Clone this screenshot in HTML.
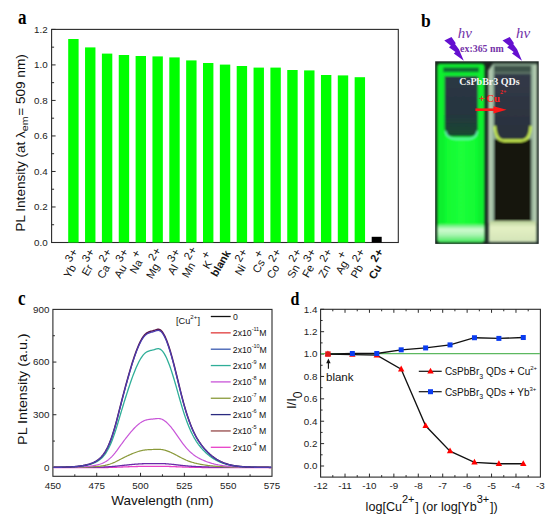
<!DOCTYPE html>
<html><head><meta charset="utf-8"><style>
html,body{margin:0;padding:0;background:#fff;}
body{width:550px;height:523px;overflow:hidden;font-family:"Liberation Sans",sans-serif;}
svg{display:block;}
</style></head><body>
<svg width="550" height="523" viewBox="0 0 550 523">
<rect width="550" height="523" fill="#fff"/>
<rect x="51.6" y="29.4" width="346.7" height="213.1" fill="none" stroke="#2a2a2a" stroke-width="1.1"/>
<line x1="51.6" y1="242.5" x2="55.6" y2="242.5" stroke="#2a2a2a" stroke-width="1"/>
<text x="47.6" y="245.8" font-family="Liberation Sans" font-size="9.8" font-weight="normal" text-anchor="end" fill="#222" >0.0</text>
<line x1="51.6" y1="224.74" x2="54.1" y2="224.74" stroke="#2a2a2a" stroke-width="1"/>
<line x1="51.6" y1="206.98" x2="55.6" y2="206.98" stroke="#2a2a2a" stroke-width="1"/>
<text x="47.6" y="210.28" font-family="Liberation Sans" font-size="9.8" font-weight="normal" text-anchor="end" fill="#222" >0.2</text>
<line x1="51.6" y1="189.22" x2="54.1" y2="189.22" stroke="#2a2a2a" stroke-width="1"/>
<line x1="51.6" y1="171.47" x2="55.6" y2="171.47" stroke="#2a2a2a" stroke-width="1"/>
<text x="47.6" y="174.77" font-family="Liberation Sans" font-size="9.8" font-weight="normal" text-anchor="end" fill="#222" >0.4</text>
<line x1="51.6" y1="153.71" x2="54.1" y2="153.71" stroke="#2a2a2a" stroke-width="1"/>
<line x1="51.6" y1="135.95" x2="55.6" y2="135.95" stroke="#2a2a2a" stroke-width="1"/>
<text x="47.6" y="139.25" font-family="Liberation Sans" font-size="9.8" font-weight="normal" text-anchor="end" fill="#222" >0.6</text>
<line x1="51.6" y1="118.19" x2="54.1" y2="118.19" stroke="#2a2a2a" stroke-width="1"/>
<line x1="51.6" y1="100.43" x2="55.6" y2="100.43" stroke="#2a2a2a" stroke-width="1"/>
<text x="47.6" y="103.73" font-family="Liberation Sans" font-size="9.8" font-weight="normal" text-anchor="end" fill="#222" >0.8</text>
<line x1="51.6" y1="82.67" x2="54.1" y2="82.67" stroke="#2a2a2a" stroke-width="1"/>
<line x1="51.6" y1="64.92" x2="55.6" y2="64.92" stroke="#2a2a2a" stroke-width="1"/>
<text x="47.6" y="68.22" font-family="Liberation Sans" font-size="9.8" font-weight="normal" text-anchor="end" fill="#222" >1.0</text>
<line x1="51.6" y1="47.16" x2="54.1" y2="47.16" stroke="#2a2a2a" stroke-width="1"/>
<line x1="51.6" y1="29.4" x2="55.6" y2="29.4" stroke="#2a2a2a" stroke-width="1"/>
<text x="47.6" y="32.7" font-family="Liberation Sans" font-size="9.8" font-weight="normal" text-anchor="end" fill="#222" >1.2</text>
<rect x="68.2" y="39" width="10.4" height="203.5" fill="#00ff00"/>
<rect x="85.05" y="47.4" width="10.4" height="195.1" fill="#00ff00"/>
<rect x="101.9" y="53.6" width="10.4" height="188.9" fill="#00ff00"/>
<rect x="118.75" y="55" width="10.4" height="187.5" fill="#00ff00"/>
<rect x="135.6" y="56" width="10.4" height="186.5" fill="#00ff00"/>
<rect x="152.45" y="56.4" width="10.4" height="186.1" fill="#00ff00"/>
<rect x="169.3" y="57.4" width="10.4" height="185.1" fill="#00ff00"/>
<rect x="186.15" y="60.4" width="10.4" height="182.1" fill="#00ff00"/>
<rect x="203" y="63" width="10.4" height="179.5" fill="#00ff00"/>
<rect x="219.85" y="64.6" width="10.4" height="177.9" fill="#00ff00"/>
<rect x="236.7" y="66" width="10.4" height="176.5" fill="#00ff00"/>
<rect x="253.55" y="67.6" width="10.4" height="174.9" fill="#00ff00"/>
<rect x="270.4" y="67.6" width="10.4" height="174.9" fill="#00ff00"/>
<rect x="287.25" y="70" width="10.4" height="172.5" fill="#00ff00"/>
<rect x="304.1" y="70.4" width="10.4" height="172.1" fill="#00ff00"/>
<rect x="320.95" y="75" width="10.4" height="167.5" fill="#00ff00"/>
<rect x="337.8" y="75.4" width="10.4" height="167.1" fill="#00ff00"/>
<rect x="354.65" y="77.2" width="10.4" height="165.3" fill="#00ff00"/>
<rect x="371.7" y="236.8" width="10" height="5.7" fill="#000"/>
<text transform="translate(69.78,279.01) rotate(-60)" font-family="Liberation Sans" font-size="11" font-weight="normal" fill="#111">Yb<tspan dx="1.2" dy="-7.3">3</tspan><tspan font-size="12.1" dx="0.3" dy="1.1">+</tspan></text>
<text transform="translate(87.87,276.87) rotate(-60)" font-family="Liberation Sans" font-size="11" font-weight="normal" fill="#111">Er<tspan dx="1.2" dy="-7.3">3</tspan><tspan font-size="12.1" dx="0.3" dy="1.1">+</tspan></text>
<text transform="translate(103.19,279.52) rotate(-60)" font-family="Liberation Sans" font-size="11" font-weight="normal" fill="#111">Ca<tspan dx="1.2" dy="-7.3">2</tspan><tspan font-size="12.1" dx="0.3" dy="1.1">+</tspan></text>
<text transform="translate(120.33,279.01) rotate(-60)" font-family="Liberation Sans" font-size="11" font-weight="normal" fill="#111">Au<tspan dx="1.2" dy="-7.3">3</tspan><tspan font-size="12.1" dx="0.3" dy="1.1">+</tspan></text>
<text transform="translate(135.86,274.49) rotate(-60)" font-family="Liberation Sans" font-size="11" font-weight="normal" fill="#111">Na<tspan font-size="12.1" dx="0.6" dy="-6.2">+</tspan></text>
<text transform="translate(152.13,279.48) rotate(-60)" font-family="Liberation Sans" font-size="11" font-weight="normal" fill="#111">Mg<tspan dx="1.2" dy="-7.3">2</tspan><tspan font-size="12.1" dx="0.3" dy="1.1">+</tspan></text>
<text transform="translate(173.83,275.82) rotate(-60)" font-family="Liberation Sans" font-size="11" font-weight="normal" fill="#111">Al<tspan dx="1.2" dy="-7.3">3</tspan><tspan font-size="12.1" dx="0.3" dy="1.1">+</tspan></text>
<text transform="translate(187.93,278.38) rotate(-60)" font-family="Liberation Sans" font-size="11" font-weight="normal" fill="#111">Mn<tspan dx="1.2" dy="-7.3">2</tspan><tspan font-size="12.1" dx="0.3" dy="1.1">+</tspan></text>
<text transform="translate(208.82,269.77) rotate(-60)" font-family="Liberation Sans" font-size="11" font-weight="normal" fill="#111">K<tspan font-size="12.1" dx="0.6" dy="-6.2">+</tspan></text>
<text transform="translate(216.8,277.4) rotate(-60)" font-family="Liberation Sans" font-size="10.8" font-weight="bold" fill="#111">blank</text>
<text transform="translate(240.92,276.34) rotate(-60)" font-family="Liberation Sans" font-size="11" font-weight="normal" fill="#111">Ni<tspan dx="1.2" dy="-7.3">2</tspan><tspan font-size="12.1" dx="0.3" dy="1.1">+</tspan></text>
<text transform="translate(258.52,273.96) rotate(-60)" font-family="Liberation Sans" font-size="11" font-weight="normal" fill="#111">Cs<tspan font-size="12.1" dx="0.6" dy="-6.2">+</tspan></text>
<text transform="translate(272.79,279.52) rotate(-60)" font-family="Liberation Sans" font-size="11" font-weight="normal" fill="#111">Co<tspan dx="1.2" dy="-7.3">2</tspan><tspan font-size="12.1" dx="0.3" dy="1.1">+</tspan></text>
<text transform="translate(293.23,279.01) rotate(-60)" font-family="Liberation Sans" font-size="11" font-weight="normal" fill="#111">Sn<tspan dx="1.2" dy="-7.3">2</tspan><tspan font-size="12.1" dx="0.3" dy="1.1">+</tspan></text>
<text transform="translate(308.2,278.47) rotate(-60)" font-family="Liberation Sans" font-size="11" font-weight="normal" fill="#111">Fe<tspan dx="1.2" dy="-7.3">3</tspan><tspan font-size="12.1" dx="0.3" dy="1.1">+</tspan></text>
<text transform="translate(324.45,278.47) rotate(-60)" font-family="Liberation Sans" font-size="11" font-weight="normal" fill="#111">Zn<tspan dx="1.2" dy="-7.3">2</tspan><tspan font-size="12.1" dx="0.3" dy="1.1">+</tspan></text>
<text transform="translate(341.66,275.07) rotate(-60)" font-family="Liberation Sans" font-size="11" font-weight="normal" fill="#111">Ag<tspan font-size="12.1" dx="0.6" dy="-6.2">+</tspan></text>
<text transform="translate(356.73,279.01) rotate(-60)" font-family="Liberation Sans" font-size="11" font-weight="normal" fill="#111">Pb<tspan dx="1.2" dy="-7.3">2</tspan><tspan font-size="12.1" dx="0.3" dy="1.1">+</tspan></text>
<text transform="translate(374.68,280.05) rotate(-60)" font-family="Liberation Sans" font-size="11" font-weight="bold" fill="#111">Cu<tspan dx="1.2" dy="-7.3">2</tspan><tspan font-size="12.1" dx="0.3" dy="1.1">+</tspan></text>
<text transform="translate(25.2,231.5) rotate(-90) scale(1.075,1)" font-family="Liberation Sans" font-size="12.6" fill="#111">PL Intensity (at λ<tspan font-size="9.8" dy="2.8">em</tspan><tspan dy="-2.8" dx="0.8">= 509 nm)</tspan></text>
<text transform="translate(18,23.6) scale(1,1.2)" font-family="Liberation Serif" font-size="17" font-weight="bold" fill="#000">a</text>
<rect x="52.9" y="309.4" width="219.1" height="166.9" fill="none" stroke="#2a2a2a" stroke-width="1.1"/>
<line x1="52.9" y1="467.4" x2="56.4" y2="467.4" stroke="#2a2a2a" stroke-width="1"/>
<line x1="52.9" y1="441.07" x2="54.9" y2="441.07" stroke="#2a2a2a" stroke-width="1"/>
<line x1="52.9" y1="414.73" x2="56.4" y2="414.73" stroke="#2a2a2a" stroke-width="1"/>
<line x1="52.9" y1="388.4" x2="54.9" y2="388.4" stroke="#2a2a2a" stroke-width="1"/>
<line x1="52.9" y1="362.07" x2="56.4" y2="362.07" stroke="#2a2a2a" stroke-width="1"/>
<line x1="52.9" y1="335.73" x2="54.9" y2="335.73" stroke="#2a2a2a" stroke-width="1"/>
<text x="49.4" y="470.7" font-family="Liberation Sans" font-size="9.8" font-weight="normal" text-anchor="end" fill="#222" >0</text>
<text x="49.4" y="418.03" font-family="Liberation Sans" font-size="9.8" font-weight="normal" text-anchor="end" fill="#222" >300</text>
<text x="49.4" y="365.37" font-family="Liberation Sans" font-size="9.8" font-weight="normal" text-anchor="end" fill="#222" >600</text>
<text x="49.4" y="312.7" font-family="Liberation Sans" font-size="9.8" font-weight="normal" text-anchor="end" fill="#222" >900</text>
<text x="52.9" y="489.2" font-family="Liberation Sans" font-size="9.8" font-weight="normal" text-anchor="middle" fill="#222" >450</text>
<line x1="74.81" y1="476.3" x2="74.81" y2="474.3" stroke="#2a2a2a" stroke-width="1"/>
<line x1="96.72" y1="476.3" x2="96.72" y2="472.8" stroke="#2a2a2a" stroke-width="1"/>
<text x="96.72" y="489.2" font-family="Liberation Sans" font-size="9.8" font-weight="normal" text-anchor="middle" fill="#222" >475</text>
<line x1="118.63" y1="476.3" x2="118.63" y2="474.3" stroke="#2a2a2a" stroke-width="1"/>
<line x1="140.54" y1="476.3" x2="140.54" y2="472.8" stroke="#2a2a2a" stroke-width="1"/>
<text x="140.54" y="489.2" font-family="Liberation Sans" font-size="9.8" font-weight="normal" text-anchor="middle" fill="#222" >500</text>
<line x1="162.45" y1="476.3" x2="162.45" y2="474.3" stroke="#2a2a2a" stroke-width="1"/>
<line x1="184.36" y1="476.3" x2="184.36" y2="472.8" stroke="#2a2a2a" stroke-width="1"/>
<text x="184.36" y="489.2" font-family="Liberation Sans" font-size="9.8" font-weight="normal" text-anchor="middle" fill="#222" >525</text>
<line x1="206.27" y1="476.3" x2="206.27" y2="474.3" stroke="#2a2a2a" stroke-width="1"/>
<line x1="228.18" y1="476.3" x2="228.18" y2="472.8" stroke="#2a2a2a" stroke-width="1"/>
<text x="228.18" y="489.2" font-family="Liberation Sans" font-size="9.8" font-weight="normal" text-anchor="middle" fill="#222" >550</text>
<line x1="250.09" y1="476.3" x2="250.09" y2="474.3" stroke="#2a2a2a" stroke-width="1"/>
<text x="272" y="489.2" font-family="Liberation Sans" font-size="9.8" font-weight="normal" text-anchor="middle" fill="#222" >575</text>
<text x="162.4" y="505" font-family="Liberation Sans" font-size="13.5" font-weight="normal" text-anchor="middle" fill="#111" >Wavelength (nm)</text>
<text transform="translate(27.2,444.9) rotate(-90) scale(1.144,1)" font-family="Liberation Sans" font-size="12.5" fill="#111">PL Intensity (a.u.)</text>
<text transform="translate(18,304.6) scale(1,1.2)" font-family="Liberation Serif" font-size="17" font-weight="bold" fill="#000">c</text>
<polyline points="53.5,467.7 54.2,467.7 54.9,467.7 55.6,467.7 56.3,467.7 57,467.7 57.7,467.7 58.4,467.7 59.1,467.7 59.8,467.7 60.5,467.7 61.2,467.7 61.9,467.7 62.6,467.7 63.3,467.7 64,467.7 64.7,467.7 65.4,467.7 66.1,467.7 66.8,467.7 67.5,467.7 68.2,467.7 68.9,467.7 69.6,467.7 70.3,467.7 71,467.69 71.7,467.69 72.4,467.69 73.1,467.69 73.8,467.69 74.5,467.69 75.2,467.69 75.9,467.69 76.6,467.69 77.3,467.69 78,467.69 78.7,467.69 79.4,467.69 80.1,467.69 80.8,467.69 81.5,467.68 82.2,467.68 82.9,467.68 83.6,467.68 84.3,467.68 85,467.68 85.7,467.68 86.4,467.67 87.1,467.67 87.8,467.67 88.5,467.67 89.2,467.67 89.9,467.66 90.6,467.66 91.3,467.66 92,467.66 92.7,467.65 93.4,467.65 94.1,467.65 94.8,467.64 95.5,467.64 96.2,467.64 96.9,467.63 97.6,467.63 98.3,467.62 99,467.62 99.7,467.61 100.4,467.6 101.1,467.6 101.8,467.59 102.5,467.58 103.2,467.57 103.9,467.56 104.6,467.55 105.3,467.54 106,467.53 106.7,467.51 107.4,467.5 108.1,467.48 108.8,467.47 109.5,467.45 110.2,467.43 110.9,467.42 111.6,467.4 112.3,467.37 113,467.35 113.7,467.33 114.4,467.31 115.1,467.28 115.8,467.26 116.5,467.23 117.2,467.2 117.9,467.17 118.6,467.15 119.3,467.12 120,467.09 120.7,467.06 121.4,467.03 122.1,467.01 122.8,466.98 123.5,466.95 124.2,466.92 124.9,466.9 125.6,466.87 126.3,466.85 127,466.82 127.7,466.79 128.4,466.77 129.1,466.74 129.8,466.72 130.5,466.69 131.2,466.67 131.9,466.65 132.6,466.62 133.3,466.6 134,466.58 134.7,466.56 135.4,466.54 136.1,466.52 136.8,466.5 137.5,466.48 138.2,466.47 138.9,466.45 139.6,466.43 140.3,466.42 141,466.4 141.7,466.39 142.4,466.38 143.1,466.37 143.8,466.36 144.5,466.35 145.2,466.34 145.9,466.34 146.6,466.33 147.3,466.33 148,466.32 148.7,466.32 149.4,466.32 150.1,466.32 150.8,466.31 151.5,466.31 152.2,466.31 152.9,466.31 153.6,466.31 154.3,466.3 155,466.3 155.7,466.3 156.4,466.3 157.1,466.29 157.8,466.29 158.5,466.29 159.2,466.29 159.9,466.3 160.6,466.3 161.3,466.31 162,466.32 162.7,466.33 163.4,466.34 164.1,466.35 164.8,466.36 165.5,466.38 166.2,466.4 166.9,466.41 167.6,466.43 168.3,466.45 169,466.47 169.7,466.5 170.4,466.52 171.1,466.54 171.8,466.57 172.5,466.6 173.2,466.62 173.9,466.65 174.6,466.68 175.3,466.71 176,466.73 176.7,466.76 177.4,466.79 178.1,466.82 178.8,466.85 179.5,466.88 180.2,466.91 180.9,466.94 181.6,466.97 182.3,466.99 183,467.02 183.7,467.05 184.4,467.07 185.1,467.1 185.8,467.12 186.5,467.14 187.2,467.17 187.9,467.19 188.6,467.21 189.3,467.23 190,467.25 190.7,467.27 191.4,467.29 192.1,467.3 192.8,467.32 193.5,467.33 194.2,467.35 194.9,467.36 195.6,467.38 196.3,467.39 197,467.4 197.7,467.42 198.4,467.43 199.1,467.44 199.8,467.45 200.5,467.46 201.2,467.47 201.9,467.48 202.6,467.49 203.3,467.5 204,467.5 204.7,467.51 205.4,467.52 206.1,467.53 206.8,467.54 207.5,467.54 208.2,467.55 208.9,467.56 209.6,467.56 210.3,467.57 211,467.58 211.7,467.58 212.4,467.59 213.1,467.59 213.8,467.6 214.5,467.6 215.2,467.61 215.9,467.61 216.6,467.62 217.3,467.62 218,467.63 218.7,467.63 219.4,467.63 220.1,467.64 220.8,467.64 221.5,467.64 222.2,467.65 222.9,467.65 223.6,467.65 224.3,467.66 225,467.66 225.7,467.66 226.4,467.66 227.1,467.67 227.8,467.67 228.5,467.67 229.2,467.67 229.9,467.67 230.6,467.68 231.3,467.68 232,467.68 232.7,467.68 233.4,467.68 234.1,467.68 234.8,467.68 235.5,467.68 236.2,467.69 236.9,467.69 237.6,467.69 238.3,467.69 239,467.69 239.7,467.69 240.4,467.69 241.1,467.69 241.8,467.69 242.5,467.69 243.2,467.69 243.9,467.69 244.6,467.69 245.3,467.69 246,467.7 246.7,467.7 247.4,467.7 248.1,467.7 248.8,467.7 249.5,467.7 250.2,467.7 250.9,467.7 251.6,467.7 252.3,467.7 253,467.7 253.7,467.7 254.4,467.7 255.1,467.7 255.8,467.7 256.5,467.7 257.2,467.7 257.9,467.7 258.6,467.7 259.3,467.7 260,467.7 260.7,467.7 261.4,467.7 262.1,467.7 262.8,467.7 263.5,467.7 264.2,467.7 264.9,467.7 265.6,467.7 266.3,467.7 267,467.7 267.7,467.7 268.4,467.7 269.1,467.7 269.8,467.7 270.5,467.7 271.2,467.7" fill="none" stroke="#e840c8" stroke-width="1.3" stroke-linejoin="round"/>
<polyline points="53.5,467.4 54.2,467.4 54.9,467.4 55.6,467.4 56.3,467.4 57,467.4 57.7,467.4 58.4,467.4 59.1,467.4 59.8,467.4 60.5,467.4 61.2,467.4 61.9,467.4 62.6,467.39 63.3,467.39 64,467.39 64.7,467.39 65.4,467.39 66.1,467.39 66.8,467.39 67.5,467.39 68.2,467.39 68.9,467.39 69.6,467.39 70.3,467.39 71,467.39 71.7,467.38 72.4,467.38 73.1,467.38 73.8,467.38 74.5,467.38 75.2,467.38 75.9,467.38 76.6,467.37 77.3,467.37 78,467.37 78.7,467.37 79.4,467.37 80.1,467.36 80.8,467.36 81.5,467.36 82.2,467.35 82.9,467.35 83.6,467.35 84.3,467.34 85,467.34 85.7,467.33 86.4,467.33 87.1,467.33 87.8,467.32 88.5,467.31 89.2,467.31 89.9,467.3 90.6,467.3 91.3,467.29 92,467.28 92.7,467.27 93.4,467.26 94.1,467.26 94.8,467.25 95.5,467.24 96.2,467.22 96.9,467.21 97.6,467.2 98.3,467.18 99,467.17 99.7,467.15 100.4,467.13 101.1,467.11 101.8,467.09 102.5,467.07 103.2,467.04 103.9,467.02 104.6,466.99 105.3,466.96 106,466.92 106.7,466.89 107.4,466.85 108.1,466.81 108.8,466.76 109.5,466.72 110.2,466.67 110.9,466.62 111.6,466.56 112.3,466.5 113,466.44 113.7,466.38 114.4,466.32 115.1,466.25 115.8,466.18 116.5,466.1 117.2,466.03 117.9,465.95 118.6,465.88 119.3,465.8 120,465.72 120.7,465.64 121.4,465.57 122.1,465.49 122.8,465.42 123.5,465.34 124.2,465.27 124.9,465.19 125.6,465.12 126.3,465.05 127,464.98 127.7,464.91 128.4,464.84 129.1,464.77 129.8,464.7 130.5,464.63 131.2,464.57 131.9,464.51 132.6,464.44 133.3,464.38 134,464.32 134.7,464.26 135.4,464.21 136.1,464.15 136.8,464.1 137.5,464.05 138.2,464 138.9,463.96 139.6,463.92 140.3,463.88 141,463.84 141.7,463.8 142.4,463.77 143.1,463.74 143.8,463.72 144.5,463.69 145.2,463.67 145.9,463.65 146.6,463.64 147.3,463.63 148,463.62 148.7,463.61 149.4,463.6 150.1,463.59 150.8,463.59 151.5,463.58 152.2,463.58 152.9,463.57 153.6,463.57 154.3,463.56 155,463.55 155.7,463.55 156.4,463.54 157.1,463.53 157.8,463.53 158.5,463.53 159.2,463.53 159.9,463.54 160.6,463.55 161.3,463.57 162,463.59 162.7,463.62 163.4,463.65 164.1,463.68 164.8,463.72 165.5,463.77 166.2,463.81 166.9,463.86 167.6,463.91 168.3,463.97 169,464.03 169.7,464.09 170.4,464.15 171.1,464.22 171.8,464.29 172.5,464.36 173.2,464.44 173.9,464.51 174.6,464.59 175.3,464.67 176,464.75 176.7,464.83 177.4,464.91 178.1,464.99 178.8,465.07 179.5,465.15 180.2,465.23 180.9,465.31 181.6,465.38 182.3,465.46 183,465.53 183.7,465.61 184.4,465.68 185.1,465.74 185.8,465.81 186.5,465.87 187.2,465.93 187.9,465.99 188.6,466.05 189.3,466.11 190,466.16 190.7,466.21 191.4,466.26 192.1,466.31 192.8,466.35 193.5,466.39 194.2,466.44 194.9,466.48 195.6,466.51 196.3,466.55 197,466.58 197.7,466.62 198.4,466.65 199.1,466.68 199.8,466.71 200.5,466.74 201.2,466.76 201.9,466.79 202.6,466.81 203.3,466.84 204,466.86 204.7,466.89 205.4,466.91 206.1,466.93 206.8,466.95 207.5,466.97 208.2,466.99 208.9,467.01 209.6,467.03 210.3,467.04 211,467.06 211.7,467.08 212.4,467.09 213.1,467.11 213.8,467.12 214.5,467.14 215.2,467.15 215.9,467.16 216.6,467.17 217.3,467.19 218,467.2 218.7,467.21 219.4,467.22 220.1,467.23 220.8,467.24 221.5,467.25 222.2,467.26 222.9,467.26 223.6,467.27 224.3,467.28 225,467.29 225.7,467.29 226.4,467.3 227.1,467.31 227.8,467.31 228.5,467.32 229.2,467.32 229.9,467.33 230.6,467.33 231.3,467.34 232,467.34 232.7,467.34 233.4,467.35 234.1,467.35 234.8,467.35 235.5,467.36 236.2,467.36 236.9,467.36 237.6,467.37 238.3,467.37 239,467.37 239.7,467.37 240.4,467.37 241.1,467.38 241.8,467.38 242.5,467.38 243.2,467.38 243.9,467.38 244.6,467.38 245.3,467.39 246,467.39 246.7,467.39 247.4,467.39 248.1,467.39 248.8,467.39 249.5,467.39 250.2,467.39 250.9,467.39 251.6,467.39 252.3,467.39 253,467.39 253.7,467.39 254.4,467.4 255.1,467.4 255.8,467.4 256.5,467.4 257.2,467.4 257.9,467.4 258.6,467.4 259.3,467.4 260,467.4 260.7,467.4 261.4,467.4 262.1,467.4 262.8,467.4 263.5,467.4 264.2,467.4 264.9,467.4 265.6,467.4 266.3,467.4 267,467.4 267.7,467.4 268.4,467.4 269.1,467.4 269.8,467.4 270.5,467.4 271.2,467.4" fill="none" stroke="#6a2aa8" stroke-width="1.3" stroke-linejoin="round"/>
<polyline points="53.5,467.39 54.2,467.39 54.9,467.39 55.6,467.39 56.3,467.39 57,467.39 57.7,467.39 58.4,467.39 59.1,467.38 59.8,467.38 60.5,467.38 61.2,467.38 61.9,467.38 62.6,467.38 63.3,467.37 64,467.37 64.7,467.37 65.4,467.37 66.1,467.36 66.8,467.36 67.5,467.36 68.2,467.35 68.9,467.35 69.6,467.34 70.3,467.34 71,467.33 71.7,467.33 72.4,467.32 73.1,467.32 73.8,467.31 74.5,467.3 75.2,467.3 75.9,467.29 76.6,467.28 77.3,467.27 78,467.26 78.7,467.25 79.4,467.24 80.1,467.22 80.8,467.21 81.5,467.2 82.2,467.18 82.9,467.17 83.6,467.15 84.3,467.13 85,467.11 85.7,467.09 86.4,467.07 87.1,467.05 87.8,467.03 88.5,467 89.2,466.97 89.9,466.94 90.6,466.91 91.3,466.88 92,466.84 92.7,466.81 93.4,466.77 94.1,466.72 94.8,466.68 95.5,466.63 96.2,466.58 96.9,466.52 97.6,466.46 98.3,466.39 99,466.32 99.7,466.24 100.4,466.15 101.1,466.06 101.8,465.96 102.5,465.85 103.2,465.74 103.9,465.61 104.6,465.48 105.3,465.33 106,465.17 106.7,465 107.4,464.82 108.1,464.63 108.8,464.43 109.5,464.21 110.2,463.98 110.9,463.73 111.6,463.48 112.3,463.21 113,462.93 113.7,462.63 114.4,462.33 115.1,462.01 115.8,461.67 116.5,461.33 117.2,460.98 117.9,460.62 118.6,460.27 119.3,459.9 120,459.54 120.7,459.18 121.4,458.82 122.1,458.46 122.8,458.11 123.5,457.76 124.2,457.41 124.9,457.07 125.6,456.73 126.3,456.4 127,456.07 127.7,455.74 128.4,455.41 129.1,455.09 129.8,454.77 130.5,454.45 131.2,454.15 131.9,453.85 132.6,453.55 133.3,453.27 134,452.99 134.7,452.72 135.4,452.45 136.1,452.2 136.8,451.96 137.5,451.72 138.2,451.5 138.9,451.29 139.6,451.09 140.3,450.9 141,450.72 141.7,450.56 142.4,450.41 143.1,450.27 143.8,450.15 144.5,450.04 145.2,449.94 145.9,449.86 146.6,449.79 147.3,449.74 148,449.69 148.7,449.64 149.4,449.61 150.1,449.58 150.8,449.55 151.5,449.53 152.2,449.5 152.9,449.48 153.6,449.45 154.3,449.42 155,449.39 155.7,449.36 156.4,449.33 157.1,449.3 157.8,449.29 158.5,449.29 159.2,449.3 159.9,449.34 160.6,449.4 161.3,449.48 162,449.58 162.7,449.7 163.4,449.85 164.1,450.01 164.8,450.19 165.5,450.38 166.2,450.6 166.9,450.83 167.6,451.08 168.3,451.34 169,451.61 169.7,451.9 170.4,452.2 171.1,452.52 171.8,452.84 172.5,453.18 173.2,453.52 173.9,453.87 174.6,454.23 175.3,454.6 176,454.97 176.7,455.34 177.4,455.72 178.1,456.1 178.8,456.48 179.5,456.85 180.2,457.22 180.9,457.59 181.6,457.96 182.3,458.31 183,458.66 183.7,459 184.4,459.33 185.1,459.65 185.8,459.96 186.5,460.25 187.2,460.54 187.9,460.82 188.6,461.08 189.3,461.34 190,461.59 190.7,461.83 191.4,462.06 192.1,462.28 192.8,462.49 193.5,462.69 194.2,462.89 194.9,463.07 195.6,463.25 196.3,463.42 197,463.58 197.7,463.73 198.4,463.88 199.1,464.02 199.8,464.16 200.5,464.29 201.2,464.42 201.9,464.54 202.6,464.66 203.3,464.77 204,464.88 204.7,464.99 205.4,465.09 206.1,465.19 206.8,465.29 207.5,465.39 208.2,465.48 208.9,465.56 209.6,465.65 210.3,465.73 211,465.81 211.7,465.88 212.4,465.96 213.1,466.03 213.8,466.09 214.5,466.16 215.2,466.22 215.9,466.28 216.6,466.34 217.3,466.4 218,466.45 218.7,466.5 219.4,466.55 220.1,466.6 220.8,466.64 221.5,466.68 222.2,466.72 222.9,466.76 223.6,466.8 224.3,466.83 225,466.87 225.7,466.9 226.4,466.93 227.1,466.96 227.8,466.99 228.5,467.01 229.2,467.04 229.9,467.06 230.6,467.08 231.3,467.1 232,467.12 232.7,467.14 233.4,467.16 234.1,467.17 234.8,467.19 235.5,467.2 236.2,467.22 236.9,467.23 237.6,467.24 238.3,467.25 239,467.26 239.7,467.27 240.4,467.28 241.1,467.29 241.8,467.3 242.5,467.31 243.2,467.31 243.9,467.32 244.6,467.33 245.3,467.33 246,467.34 246.7,467.34 247.4,467.35 248.1,467.35 248.8,467.35 249.5,467.36 250.2,467.36 250.9,467.36 251.6,467.37 252.3,467.37 253,467.37 253.7,467.37 254.4,467.38 255.1,467.38 255.8,467.38 256.5,467.38 257.2,467.38 257.9,467.39 258.6,467.39 259.3,467.39 260,467.39 260.7,467.39 261.4,467.39 262.1,467.39 262.8,467.39 263.5,467.39 264.2,467.39 264.9,467.39 265.6,467.39 266.3,467.4 267,467.4 267.7,467.4 268.4,467.4 269.1,467.4 269.8,467.4 270.5,467.4 271.2,467.4" fill="none" stroke="#8a9a3a" stroke-width="1.2" stroke-linejoin="round"/>
<polyline points="53.5,467.38 54.2,467.38 54.9,467.38 55.6,467.37 56.3,467.37 57,467.37 57.7,467.37 58.4,467.36 59.1,467.36 59.8,467.36 60.5,467.35 61.2,467.35 61.9,467.34 62.6,467.34 63.3,467.33 64,467.32 64.7,467.32 65.4,467.31 66.1,467.3 66.8,467.29 67.5,467.28 68.2,467.27 68.9,467.26 69.6,467.25 70.3,467.24 71,467.22 71.7,467.21 72.4,467.19 73.1,467.18 73.8,467.16 74.5,467.14 75.2,467.12 75.9,467.1 76.6,467.07 77.3,467.05 78,467.02 78.7,466.99 79.4,466.96 80.1,466.93 80.8,466.89 81.5,466.85 82.2,466.81 82.9,466.77 83.6,466.73 84.3,466.68 85,466.63 85.7,466.57 86.4,466.51 87.1,466.45 87.8,466.39 88.5,466.32 89.2,466.25 89.9,466.17 90.6,466.08 91.3,466 92,465.9 92.7,465.8 93.4,465.69 94.1,465.58 94.8,465.45 95.5,465.32 96.2,465.17 96.9,465.02 97.6,464.85 98.3,464.67 99,464.47 99.7,464.26 100.4,464.03 101.1,463.79 101.8,463.52 102.5,463.23 103.2,462.91 103.9,462.57 104.6,462.21 105.3,461.81 106,461.39 106.7,460.93 107.4,460.45 108.1,459.93 108.8,459.37 109.5,458.78 110.2,458.16 110.9,457.5 111.6,456.81 112.3,456.08 113,455.32 113.7,454.53 114.4,453.71 115.1,452.85 115.8,451.94 116.5,451.02 117.2,450.07 117.9,449.11 118.6,448.14 119.3,447.17 120,446.19 120.7,445.22 121.4,444.25 122.1,443.28 122.8,442.32 123.5,441.37 124.2,440.44 124.9,439.51 125.6,438.6 126.3,437.7 127,436.82 127.7,435.92 128.4,435.04 129.1,434.16 129.8,433.3 130.5,432.46 131.2,431.63 131.9,430.82 132.6,430.03 133.3,429.25 134,428.5 134.7,427.77 135.4,427.06 136.1,426.38 136.8,425.72 137.5,425.09 138.2,424.49 138.9,423.92 139.6,423.38 140.3,422.87 141,422.39 141.7,421.95 142.4,421.54 143.1,421.17 143.8,420.84 144.5,420.54 145.2,420.29 145.9,420.07 146.6,419.88 147.3,419.72 148,419.59 148.7,419.47 149.4,419.38 150.1,419.3 150.8,419.22 151.5,419.16 152.2,419.09 152.9,419.03 153.6,418.96 154.3,418.88 155,418.8 155.7,418.71 156.4,418.62 157.1,418.56 157.8,418.51 158.5,418.51 159.2,418.55 159.9,418.65 160.6,418.81 161.3,419.03 162,419.3 162.7,419.63 163.4,420.02 164.1,420.46 164.8,420.94 165.5,421.48 166.2,422.06 166.9,422.68 167.6,423.34 168.3,424.05 169,424.79 169.7,425.57 170.4,426.38 171.1,427.23 171.8,428.11 172.5,429.01 173.2,429.94 173.9,430.89 174.6,431.86 175.3,432.85 176,433.85 176.7,434.86 177.4,435.88 178.1,436.9 178.8,437.91 179.5,438.93 180.2,439.93 180.9,440.93 181.6,441.91 182.3,442.87 183,443.82 183.7,444.73 184.4,445.62 185.1,446.48 185.8,447.31 186.5,448.11 187.2,448.89 187.9,449.63 188.6,450.35 189.3,451.05 190,451.72 190.7,452.36 191.4,452.98 192.1,453.58 192.8,454.15 193.5,454.7 194.2,455.22 194.9,455.72 195.6,456.2 196.3,456.65 197,457.09 197.7,457.5 198.4,457.9 199.1,458.28 199.8,458.65 200.5,459 201.2,459.35 201.9,459.68 202.6,460 203.3,460.31 204,460.61 204.7,460.9 205.4,461.18 206.1,461.45 206.8,461.71 207.5,461.96 208.2,462.21 208.9,462.44 209.6,462.67 210.3,462.89 211,463.1 211.7,463.31 212.4,463.5 213.1,463.69 213.8,463.88 214.5,464.05 215.2,464.22 215.9,464.39 216.6,464.54 217.3,464.69 218,464.83 218.7,464.97 219.4,465.1 220.1,465.23 220.8,465.35 221.5,465.46 222.2,465.57 222.9,465.68 223.6,465.78 224.3,465.87 225,465.96 225.7,466.05 226.4,466.13 227.1,466.21 227.8,466.28 228.5,466.35 229.2,466.42 229.9,466.48 230.6,466.54 231.3,466.59 232,466.65 232.7,466.7 233.4,466.74 234.1,466.79 234.8,466.83 235.5,466.87 236.2,466.9 236.9,466.94 237.6,466.97 238.3,467 239,467.03 239.7,467.06 240.4,467.08 241.1,467.1 241.8,467.13 242.5,467.15 243.2,467.16 243.9,467.18 244.6,467.2 245.3,467.21 246,467.23 246.7,467.24 247.4,467.25 248.1,467.27 248.8,467.28 249.5,467.29 250.2,467.3 250.9,467.3 251.6,467.31 252.3,467.32 253,467.33 253.7,467.33 254.4,467.34 255.1,467.34 255.8,467.35 256.5,467.35 257.2,467.36 257.9,467.36 258.6,467.36 259.3,467.37 260,467.37 260.7,467.37 261.4,467.38 262.1,467.38 262.8,467.38 263.5,467.38 264.2,467.38 264.9,467.38 265.6,467.39 266.3,467.39 267,467.39 267.7,467.39 268.4,467.39 269.1,467.39 269.8,467.39 270.5,467.39 271.2,467.39" fill="none" stroke="#c855d8" stroke-width="1.2" stroke-linejoin="round"/>
<polyline points="53.5,467.35 54.2,467.35 54.9,467.34 55.6,467.34 56.3,467.33 57,467.32 57.7,467.32 58.4,467.31 59.1,467.3 59.8,467.29 60.5,467.28 61.2,467.27 61.9,467.26 62.6,467.24 63.3,467.23 64,467.21 64.7,467.2 65.4,467.18 66.1,467.16 66.8,467.14 67.5,467.12 68.2,467.09 68.9,467.06 69.6,467.04 70.3,467.01 71,466.97 71.7,466.94 72.4,466.9 73.1,466.86 73.8,466.81 74.5,466.77 75.2,466.71 75.9,466.66 76.6,466.6 77.3,466.54 78,466.47 78.7,466.4 79.4,466.33 80.1,466.25 80.8,466.16 81.5,466.07 82.2,465.97 82.9,465.87 83.6,465.76 84.3,465.65 85,465.52 85.7,465.39 86.4,465.25 87.1,465.1 87.8,464.94 88.5,464.78 89.2,464.6 89.9,464.41 90.6,464.2 91.3,463.99 92,463.76 92.7,463.51 93.4,463.25 94.1,462.97 94.8,462.67 95.5,462.34 96.2,461.99 96.9,461.62 97.6,461.21 98.3,460.77 99,460.3 99.7,459.78 100.4,459.23 101.1,458.62 101.8,457.97 102.5,457.27 103.2,456.5 103.9,455.68 104.6,454.79 105.3,453.83 106,452.8 106.7,451.7 107.4,450.51 108.1,449.25 108.8,447.9 109.5,446.48 110.2,444.96 110.9,443.37 111.6,441.68 112.3,439.92 113,438.07 113.7,436.15 114.4,434.15 115.1,432.08 115.8,429.87 116.5,427.62 117.2,425.32 117.9,423 118.6,420.64 119.3,418.28 120,415.91 120.7,413.54 121.4,411.18 122.1,408.83 122.8,406.51 123.5,404.21 124.2,401.93 124.9,399.69 125.6,397.47 126.3,395.29 127,393.14 127.7,390.97 128.4,388.82 129.1,386.7 129.8,384.61 130.5,382.56 131.2,380.55 131.9,378.58 132.6,376.65 133.3,374.77 134,372.95 134.7,371.17 135.4,369.46 136.1,367.8 136.8,366.2 137.5,364.67 138.2,363.21 138.9,361.82 139.6,360.5 140.3,359.27 141,358.11 141.7,357.03 142.4,356.05 143.1,355.15 143.8,354.34 144.5,353.63 145.2,353.01 145.9,352.48 146.6,352.02 147.3,351.64 148,351.31 148.7,351.04 149.4,350.8 150.1,350.6 150.8,350.42 151.5,350.26 152.2,350.11 152.9,349.96 153.6,349.79 154.3,349.6 155,349.39 155.7,349.17 156.4,348.97 157.1,348.8 157.8,348.7 158.5,348.69 159.2,348.79 159.9,349.03 160.6,349.42 161.3,349.95 162,350.62 162.7,351.42 163.4,352.36 164.1,353.42 164.8,354.6 165.5,355.89 166.2,357.3 166.9,358.81 167.6,360.43 168.3,362.14 169,363.95 169.7,365.84 170.4,367.81 171.1,369.87 171.8,371.99 172.5,374.18 173.2,376.44 173.9,378.75 174.6,381.11 175.3,383.51 176,385.94 176.7,388.4 177.4,390.86 178.1,393.34 178.8,395.81 179.5,398.27 180.2,400.71 180.9,403.13 181.6,405.51 182.3,407.85 183,410.13 183.7,412.36 184.4,414.52 185.1,416.61 185.8,418.62 186.5,420.57 187.2,422.45 187.9,424.26 188.6,426.01 189.3,427.7 190,429.32 190.7,430.89 191.4,432.39 192.1,433.84 192.8,435.23 193.5,436.55 194.2,437.82 194.9,439.04 195.6,440.2 196.3,441.31 197,442.36 197.7,443.37 198.4,444.34 199.1,445.26 199.8,446.15 200.5,447.01 201.2,447.85 201.9,448.66 202.6,449.43 203.3,450.19 204,450.91 204.7,451.61 205.4,452.29 206.1,452.95 206.8,453.58 207.5,454.2 208.2,454.79 208.9,455.36 209.6,455.91 210.3,456.45 211,456.96 211.7,457.46 212.4,457.94 213.1,458.4 213.8,458.85 214.5,459.27 215.2,459.68 215.9,460.08 216.6,460.46 217.3,460.82 218,461.17 218.7,461.51 219.4,461.82 220.1,462.13 220.8,462.42 221.5,462.7 222.2,462.97 222.9,463.22 223.6,463.46 224.3,463.69 225,463.91 225.7,464.12 226.4,464.32 227.1,464.51 227.8,464.68 228.5,464.85 229.2,465.01 229.9,465.16 230.6,465.31 231.3,465.44 232,465.57 232.7,465.69 233.4,465.8 234.1,465.91 234.8,466.01 235.5,466.1 236.2,466.19 236.9,466.28 237.6,466.36 238.3,466.43 239,466.5 239.7,466.56 240.4,466.62 241.1,466.68 241.8,466.73 242.5,466.78 243.2,466.83 243.9,466.87 244.6,466.91 245.3,466.95 246,466.98 246.7,467.02 247.4,467.05 248.1,467.07 248.8,467.1 249.5,467.12 250.2,467.15 250.9,467.17 251.6,467.19 252.3,467.2 253,467.22 253.7,467.23 254.4,467.25 255.1,467.26 255.8,467.27 256.5,467.28 257.2,467.29 257.9,467.3 258.6,467.31 259.3,467.32 260,467.33 260.7,467.33 261.4,467.34 262.1,467.34 262.8,467.35 263.5,467.35 264.2,467.36 264.9,467.36 265.6,467.37 266.3,467.37 267,467.37 267.7,467.37 268.4,467.38 269.1,467.38 269.8,467.38 270.5,467.38 271.2,467.38" fill="none" stroke="#2fae98" stroke-width="1.3" stroke-linejoin="round"/>
<polyline points="53.5,467.35 54.2,467.34 54.9,467.33 55.6,467.33 56.3,467.32 57,467.31 57.7,467.3 58.4,467.29 59.1,467.28 59.8,467.27 60.5,467.26 61.2,467.25 61.9,467.23 62.6,467.22 63.3,467.2 64,467.18 64.7,467.16 65.4,467.14 66.1,467.12 66.8,467.1 67.5,467.07 68.2,467.04 68.9,467.01 69.6,466.98 70.3,466.94 71,466.9 71.7,466.86 72.4,466.82 73.1,466.77 73.8,466.72 74.5,466.66 75.2,466.6 75.9,466.54 76.6,466.47 77.3,466.4 78,466.32 78.7,466.24 79.4,466.15 80.1,466.06 80.8,465.96 81.5,465.85 82.2,465.74 82.9,465.62 83.6,465.49 84.3,465.36 85,465.21 85.7,465.06 86.4,464.9 87.1,464.73 87.8,464.54 88.5,464.35 89.2,464.14 89.9,463.92 90.6,463.68 91.3,463.43 92,463.17 92.7,462.88 93.4,462.57 94.1,462.25 94.8,461.89 95.5,461.52 96.2,461.11 96.9,460.67 97.6,460.2 98.3,459.69 99,459.14 99.7,458.54 100.4,457.89 101.1,457.19 101.8,456.43 102.5,455.61 103.2,454.72 103.9,453.77 104.6,452.73 105.3,451.62 106,450.42 106.7,449.13 107.4,447.76 108.1,446.29 108.8,444.72 109.5,443.06 110.2,441.3 110.9,439.44 111.6,437.48 112.3,435.43 113,433.29 113.7,431.05 114.4,428.73 115.1,426.31 115.8,423.75 116.5,421.12 117.2,418.45 117.9,415.74 118.6,413.01 119.3,410.26 120,407.5 120.7,404.74 121.4,402 122.1,399.27 122.8,396.56 123.5,393.88 124.2,391.24 124.9,388.63 125.6,386.05 126.3,383.52 127,381.02 127.7,378.49 128.4,375.99 129.1,373.52 129.8,371.09 130.5,368.71 131.2,366.37 131.9,364.07 132.6,361.83 133.3,359.65 134,357.52 134.7,355.46 135.4,353.46 136.1,351.53 136.8,349.68 137.5,347.9 138.2,346.2 138.9,344.58 139.6,343.05 140.3,341.61 141,340.26 141.7,339.01 142.4,337.86 143.1,336.81 143.8,335.88 144.5,335.05 145.2,334.33 145.9,333.71 146.6,333.18 147.3,332.73 148,332.35 148.7,332.03 149.4,331.76 150.1,331.53 150.8,331.32 151.5,331.14 152.2,330.96 152.9,330.78 153.6,330.58 154.3,330.37 155,330.12 155.7,329.86 156.4,329.63 157.1,329.43 157.8,329.32 158.5,329.3 159.2,329.42 159.9,329.7 160.6,330.15 161.3,330.76 162,331.54 162.7,332.48 163.4,333.57 164.1,334.8 164.8,336.17 165.5,337.68 166.2,339.32 166.9,341.08 167.6,342.96 168.3,344.95 169,347.05 169.7,349.25 170.4,351.55 171.1,353.94 171.8,356.41 172.5,358.96 173.2,361.59 173.9,364.28 174.6,367.02 175.3,369.81 176,372.64 176.7,375.49 177.4,378.36 178.1,381.24 178.8,384.12 179.5,386.98 180.2,389.82 180.9,392.63 181.6,395.4 182.3,398.12 183,400.78 183.7,403.37 184.4,405.88 185.1,408.31 185.8,410.66 186.5,412.92 187.2,415.11 187.9,417.22 188.6,419.25 189.3,421.21 190,423.1 190.7,424.93 191.4,426.68 192.1,428.36 192.8,429.97 193.5,431.52 194.2,432.99 194.9,434.41 195.6,435.76 196.3,437.04 197,438.28 197.7,439.45 198.4,440.57 199.1,441.65 199.8,442.68 200.5,443.68 201.2,444.66 201.9,445.59 202.6,446.5 203.3,447.37 204,448.22 204.7,449.04 205.4,449.82 206.1,450.59 206.8,451.33 207.5,452.04 208.2,452.73 208.9,453.39 209.6,454.04 210.3,454.66 211,455.26 211.7,455.84 212.4,456.39 213.1,456.93 213.8,457.45 214.5,457.95 215.2,458.42 215.9,458.88 216.6,459.33 217.3,459.75 218,460.15 218.7,460.54 219.4,460.91 220.1,461.27 220.8,461.61 221.5,461.93 222.2,462.24 222.9,462.54 223.6,462.82 224.3,463.09 225,463.34 225.7,463.58 226.4,463.81 227.1,464.03 227.8,464.24 228.5,464.44 229.2,464.62 229.9,464.8 230.6,464.96 231.3,465.12 232,465.27 232.7,465.41 233.4,465.54 234.1,465.67 234.8,465.78 235.5,465.89 236.2,466 236.9,466.09 237.6,466.19 238.3,466.27 239,466.35 239.7,466.43 240.4,466.5 241.1,466.56 241.8,466.62 242.5,466.68 243.2,466.74 243.9,466.79 244.6,466.83 245.3,466.88 246,466.92 246.7,466.95 247.4,466.99 248.1,467.02 248.8,467.05 249.5,467.08 250.2,467.1 250.9,467.13 251.6,467.15 252.3,467.17 253,467.19 253.7,467.21 254.4,467.22 255.1,467.24 255.8,467.25 256.5,467.27 257.2,467.28 257.9,467.29 258.6,467.3 259.3,467.31 260,467.31 260.7,467.32 261.4,467.33 262.1,467.34 262.8,467.34 263.5,467.35 264.2,467.35 264.9,467.36 265.6,467.36 266.3,467.36 267,467.37 267.7,467.37 268.4,467.37 269.1,467.38 269.8,467.38 270.5,467.38 271.2,467.38" fill="none" stroke="#5a1446" stroke-width="1.5" stroke-linejoin="round"/>
<polyline points="53.5,467.35 54.2,467.34 54.9,467.33 55.6,467.33 56.3,467.32 57,467.31 57.7,467.3 58.4,467.3 59.1,467.28 59.8,467.27 60.5,467.26 61.2,467.25 61.9,467.24 62.6,467.22 63.3,467.2 64,467.19 64.7,467.17 65.4,467.15 66.1,467.12 66.8,467.1 67.5,467.07 68.2,467.04 68.9,467.01 69.6,466.98 70.3,466.94 71,466.91 71.7,466.86 72.4,466.82 73.1,466.77 73.8,466.72 74.5,466.67 75.2,466.61 75.9,466.55 76.6,466.48 77.3,466.41 78,466.33 78.7,466.25 79.4,466.16 80.1,466.07 80.8,465.97 81.5,465.87 82.2,465.75 82.9,465.64 83.6,465.51 84.3,465.37 85,465.23 85.7,465.08 86.4,464.92 87.1,464.75 87.8,464.56 88.5,464.37 89.2,464.17 89.9,463.95 90.6,463.71 91.3,463.46 92,463.2 92.7,462.92 93.4,462.61 94.1,462.29 94.8,461.94 95.5,461.56 96.2,461.16 96.9,460.73 97.6,460.26 98.3,459.75 99,459.2 99.7,458.61 100.4,457.97 101.1,457.27 101.8,456.52 102.5,455.71 103.2,454.82 103.9,453.87 104.6,452.85 105.3,451.74 106,450.55 106.7,449.28 107.4,447.91 108.1,446.45 108.8,444.9 109.5,443.25 110.2,441.51 110.9,439.66 111.6,437.72 112.3,435.69 113,433.56 113.7,431.34 114.4,429.03 115.1,426.63 115.8,424.09 116.5,421.49 117.2,418.84 117.9,416.15 118.6,413.44 119.3,410.71 120,407.97 120.7,405.24 121.4,402.52 122.1,399.81 122.8,397.13 123.5,394.47 124.2,391.84 124.9,389.25 125.6,386.7 126.3,384.18 127,381.7 127.7,379.19 128.4,376.71 129.1,374.26 129.8,371.86 130.5,369.49 131.2,367.17 131.9,364.89 132.6,362.67 133.3,360.5 134,358.39 134.7,356.35 135.4,354.37 136.1,352.45 136.8,350.61 137.5,348.84 138.2,347.16 138.9,345.55 139.6,344.04 140.3,342.61 141,341.27 141.7,340.03 142.4,338.89 143.1,337.85 143.8,336.92 144.5,336.1 145.2,335.38 145.9,334.77 146.6,334.25 147.3,333.8 148,333.42 148.7,333.11 149.4,332.84 150.1,332.61 150.8,332.4 151.5,332.22 152.2,332.04 152.9,331.86 153.6,331.67 154.3,331.45 155,331.21 155.7,330.96 156.4,330.72 157.1,330.53 157.8,330.41 158.5,330.4 159.2,330.52 159.9,330.79 160.6,331.24 161.3,331.85 162,332.62 162.7,333.55 163.4,334.63 164.1,335.85 164.8,337.22 165.5,338.71 166.2,340.34 166.9,342.08 167.6,343.95 168.3,345.93 169,348.01 169.7,350.19 170.4,352.47 171.1,354.84 171.8,357.29 172.5,359.82 173.2,362.43 173.9,365.09 174.6,367.82 175.3,370.59 176,373.39 176.7,376.22 177.4,379.07 178.1,381.93 178.8,384.78 179.5,387.62 180.2,390.44 180.9,393.23 181.6,395.97 182.3,398.67 183,401.31 183.7,403.88 184.4,406.37 185.1,408.78 185.8,411.11 186.5,413.35 187.2,415.52 187.9,417.62 188.6,419.63 189.3,421.58 190,423.46 190.7,425.26 191.4,427 192.1,428.67 192.8,430.27 193.5,431.8 194.2,433.27 194.9,434.67 195.6,436.01 196.3,437.29 197,438.51 197.7,439.67 198.4,440.79 199.1,441.85 199.8,442.87 200.5,443.87 201.2,444.84 201.9,445.77 202.6,446.67 203.3,447.53 204,448.37 204.7,449.18 205.4,449.96 206.1,450.72 206.8,451.45 207.5,452.16 208.2,452.84 208.9,453.51 209.6,454.14 210.3,454.76 211,455.35 211.7,455.93 212.4,456.48 213.1,457.01 213.8,457.53 214.5,458.02 215.2,458.5 215.9,458.95 216.6,459.39 217.3,459.81 218,460.21 218.7,460.6 219.4,460.97 220.1,461.32 220.8,461.66 221.5,461.98 222.2,462.28 222.9,462.58 223.6,462.86 224.3,463.12 225,463.37 225.7,463.62 226.4,463.84 227.1,464.06 227.8,464.27 228.5,464.46 229.2,464.64 229.9,464.82 230.6,464.98 231.3,465.14 232,465.29 232.7,465.43 233.4,465.56 234.1,465.68 234.8,465.8 235.5,465.91 236.2,466.01 236.9,466.1 237.6,466.19 238.3,466.28 239,466.36 239.7,466.43 240.4,466.5 241.1,466.57 241.8,466.63 242.5,466.69 243.2,466.74 243.9,466.79 244.6,466.84 245.3,466.88 246,466.92 246.7,466.96 247.4,466.99 248.1,467.02 248.8,467.05 249.5,467.08 250.2,467.11 250.9,467.13 251.6,467.15 252.3,467.17 253,467.19 253.7,467.21 254.4,467.23 255.1,467.24 255.8,467.25 256.5,467.27 257.2,467.28 257.9,467.29 258.6,467.3 259.3,467.31 260,467.32 260.7,467.32 261.4,467.33 262.1,467.34 262.8,467.34 263.5,467.35 264.2,467.35 264.9,467.36 265.6,467.36 266.3,467.36 267,467.37 267.7,467.37 268.4,467.37 269.1,467.38 269.8,467.38 270.5,467.38 271.2,467.38" fill="none" stroke="#4a3cb0" stroke-width="1.3" stroke-linejoin="round"/>
<line x1="210.8" y1="316.5" x2="230.7" y2="316.5" stroke="#111" stroke-width="1.3"/>
<text x="233" y="319.8" font-family="Liberation Sans" font-size="8.7" font-weight="normal" text-anchor="start" fill="#222" >0</text>
<line x1="210.8" y1="332.85" x2="230.7" y2="332.85" stroke="#e03a3a" stroke-width="1.3"/>
<text x="232.8" y="336.15" font-family="Liberation Sans" font-size="8.7" fill="#111">2x10<tspan font-size="5.5" dy="-5">-11</tspan><tspan dy="5">M</tspan></text>
<line x1="210.8" y1="349.2" x2="230.7" y2="349.2" stroke="#3a5ab0" stroke-width="1.3"/>
<text x="232.8" y="352.5" font-family="Liberation Sans" font-size="8.7" fill="#111">2x10<tspan font-size="5.5" dy="-5">-10</tspan><tspan dy="5">M</tspan></text>
<line x1="210.8" y1="365.55" x2="230.7" y2="365.55" stroke="#2fae98" stroke-width="1.3"/>
<text x="232.8" y="368.85" font-family="Liberation Sans" font-size="8.7" fill="#111">2x10<tspan font-size="5.5" dy="-5">-9</tspan><tspan dy="5"> M</tspan></text>
<line x1="210.8" y1="381.9" x2="230.7" y2="381.9" stroke="#c855d8" stroke-width="1.3"/>
<text x="232.8" y="385.2" font-family="Liberation Sans" font-size="8.7" fill="#111">2x10<tspan font-size="5.5" dy="-5">-8</tspan><tspan dy="5"> M</tspan></text>
<line x1="210.8" y1="398.25" x2="230.7" y2="398.25" stroke="#8a9a3a" stroke-width="1.3"/>
<text x="232.8" y="401.55" font-family="Liberation Sans" font-size="8.7" fill="#111">2x10<tspan font-size="5.5" dy="-5">-7</tspan><tspan dy="5"> M</tspan></text>
<line x1="210.8" y1="414.6" x2="230.7" y2="414.6" stroke="#2a2a80" stroke-width="1.3"/>
<text x="232.8" y="417.9" font-family="Liberation Sans" font-size="8.7" fill="#111">2x10<tspan font-size="5.5" dy="-5">-6</tspan><tspan dy="5"> M</tspan></text>
<line x1="210.8" y1="430.95" x2="230.7" y2="430.95" stroke="#944848" stroke-width="1.3"/>
<text x="232.8" y="434.25" font-family="Liberation Sans" font-size="8.7" fill="#111">2x10<tspan font-size="5.5" dy="-5">-5</tspan><tspan dy="5"> M</tspan></text>
<line x1="210.8" y1="447.3" x2="230.7" y2="447.3" stroke="#e840c8" stroke-width="1.3"/>
<text x="232.8" y="450.6" font-family="Liberation Sans" font-size="8.7" fill="#111">2x10<tspan font-size="5.5" dy="-5">-4</tspan><tspan dy="5"> M</tspan></text>
<text x="176" y="323.5" font-family="Liberation Sans" font-size="9.2" fill="#111">[Cu<tspan font-size="6" dy="-4.6">2+</tspan><tspan dy="4.6" dx="0.3">]</tspan></text>
<rect x="320.6" y="309.3" width="219.8" height="167.8" fill="none" stroke="#2a2a2a" stroke-width="1.1"/>
<line x1="320.6" y1="466" x2="324.1" y2="466" stroke="#2a2a2a" stroke-width="1"/>
<text x="317.4" y="469.3" font-family="Liberation Sans" font-size="9.8" font-weight="normal" text-anchor="end" fill="#222" >0.0</text>
<line x1="320.6" y1="454.81" x2="322.6" y2="454.81" stroke="#2a2a2a" stroke-width="1"/>
<line x1="320.6" y1="443.61" x2="324.1" y2="443.61" stroke="#2a2a2a" stroke-width="1"/>
<text x="317.4" y="446.91" font-family="Liberation Sans" font-size="9.8" font-weight="normal" text-anchor="end" fill="#222" >0.2</text>
<line x1="320.6" y1="432.42" x2="322.6" y2="432.42" stroke="#2a2a2a" stroke-width="1"/>
<line x1="320.6" y1="421.23" x2="324.1" y2="421.23" stroke="#2a2a2a" stroke-width="1"/>
<text x="317.4" y="424.53" font-family="Liberation Sans" font-size="9.8" font-weight="normal" text-anchor="end" fill="#222" >0.4</text>
<line x1="320.6" y1="410.04" x2="322.6" y2="410.04" stroke="#2a2a2a" stroke-width="1"/>
<line x1="320.6" y1="398.84" x2="324.1" y2="398.84" stroke="#2a2a2a" stroke-width="1"/>
<text x="317.4" y="402.14" font-family="Liberation Sans" font-size="9.8" font-weight="normal" text-anchor="end" fill="#222" >0.6</text>
<line x1="320.6" y1="387.65" x2="322.6" y2="387.65" stroke="#2a2a2a" stroke-width="1"/>
<line x1="320.6" y1="376.46" x2="324.1" y2="376.46" stroke="#2a2a2a" stroke-width="1"/>
<text x="317.4" y="379.76" font-family="Liberation Sans" font-size="9.8" font-weight="normal" text-anchor="end" fill="#222" >0.8</text>
<line x1="320.6" y1="365.26" x2="322.6" y2="365.26" stroke="#2a2a2a" stroke-width="1"/>
<line x1="320.6" y1="354.07" x2="324.1" y2="354.07" stroke="#2a2a2a" stroke-width="1"/>
<text x="317.4" y="357.37" font-family="Liberation Sans" font-size="9.8" font-weight="normal" text-anchor="end" fill="#222" >1.0</text>
<line x1="320.6" y1="342.88" x2="322.6" y2="342.88" stroke="#2a2a2a" stroke-width="1"/>
<line x1="320.6" y1="331.69" x2="324.1" y2="331.69" stroke="#2a2a2a" stroke-width="1"/>
<text x="317.4" y="334.99" font-family="Liberation Sans" font-size="9.8" font-weight="normal" text-anchor="end" fill="#222" >1.2</text>
<line x1="320.6" y1="320.49" x2="322.6" y2="320.49" stroke="#2a2a2a" stroke-width="1"/>
<line x1="320.6" y1="309.3" x2="324.1" y2="309.3" stroke="#2a2a2a" stroke-width="1"/>
<text x="317.4" y="312.6" font-family="Liberation Sans" font-size="9.8" font-weight="normal" text-anchor="end" fill="#222" >1.4</text>
<text x="320.6" y="489.2" font-family="Liberation Sans" font-size="9.8" font-weight="normal" text-anchor="middle" fill="#222" >-12</text>
<line x1="332.81" y1="477.1" x2="332.81" y2="475.1" stroke="#2a2a2a" stroke-width="1"/>
<line x1="332.81" y1="309.3" x2="332.81" y2="311.3" stroke="#2a2a2a" stroke-width="1"/>
<line x1="345.02" y1="477.1" x2="345.02" y2="473.6" stroke="#2a2a2a" stroke-width="1"/>
<line x1="345.02" y1="309.3" x2="345.02" y2="312.8" stroke="#2a2a2a" stroke-width="1"/>
<text x="345.02" y="489.2" font-family="Liberation Sans" font-size="9.8" font-weight="normal" text-anchor="middle" fill="#222" >-11</text>
<line x1="357.23" y1="477.1" x2="357.23" y2="475.1" stroke="#2a2a2a" stroke-width="1"/>
<line x1="357.23" y1="309.3" x2="357.23" y2="311.3" stroke="#2a2a2a" stroke-width="1"/>
<line x1="369.44" y1="477.1" x2="369.44" y2="473.6" stroke="#2a2a2a" stroke-width="1"/>
<line x1="369.44" y1="309.3" x2="369.44" y2="312.8" stroke="#2a2a2a" stroke-width="1"/>
<text x="369.44" y="489.2" font-family="Liberation Sans" font-size="9.8" font-weight="normal" text-anchor="middle" fill="#222" >-10</text>
<line x1="381.66" y1="477.1" x2="381.66" y2="475.1" stroke="#2a2a2a" stroke-width="1"/>
<line x1="381.66" y1="309.3" x2="381.66" y2="311.3" stroke="#2a2a2a" stroke-width="1"/>
<line x1="393.87" y1="477.1" x2="393.87" y2="473.6" stroke="#2a2a2a" stroke-width="1"/>
<line x1="393.87" y1="309.3" x2="393.87" y2="312.8" stroke="#2a2a2a" stroke-width="1"/>
<text x="393.87" y="489.2" font-family="Liberation Sans" font-size="9.8" font-weight="normal" text-anchor="middle" fill="#222" >-9</text>
<line x1="406.08" y1="477.1" x2="406.08" y2="475.1" stroke="#2a2a2a" stroke-width="1"/>
<line x1="406.08" y1="309.3" x2="406.08" y2="311.3" stroke="#2a2a2a" stroke-width="1"/>
<line x1="418.29" y1="477.1" x2="418.29" y2="473.6" stroke="#2a2a2a" stroke-width="1"/>
<line x1="418.29" y1="309.3" x2="418.29" y2="312.8" stroke="#2a2a2a" stroke-width="1"/>
<text x="418.29" y="489.2" font-family="Liberation Sans" font-size="9.8" font-weight="normal" text-anchor="middle" fill="#222" >-8</text>
<line x1="430.5" y1="477.1" x2="430.5" y2="475.1" stroke="#2a2a2a" stroke-width="1"/>
<line x1="430.5" y1="309.3" x2="430.5" y2="311.3" stroke="#2a2a2a" stroke-width="1"/>
<line x1="442.71" y1="477.1" x2="442.71" y2="473.6" stroke="#2a2a2a" stroke-width="1"/>
<line x1="442.71" y1="309.3" x2="442.71" y2="312.8" stroke="#2a2a2a" stroke-width="1"/>
<text x="442.71" y="489.2" font-family="Liberation Sans" font-size="9.8" font-weight="normal" text-anchor="middle" fill="#222" >-7</text>
<line x1="454.92" y1="477.1" x2="454.92" y2="475.1" stroke="#2a2a2a" stroke-width="1"/>
<line x1="454.92" y1="309.3" x2="454.92" y2="311.3" stroke="#2a2a2a" stroke-width="1"/>
<line x1="467.13" y1="477.1" x2="467.13" y2="473.6" stroke="#2a2a2a" stroke-width="1"/>
<line x1="467.13" y1="309.3" x2="467.13" y2="312.8" stroke="#2a2a2a" stroke-width="1"/>
<text x="467.13" y="489.2" font-family="Liberation Sans" font-size="9.8" font-weight="normal" text-anchor="middle" fill="#222" >-6</text>
<line x1="479.34" y1="477.1" x2="479.34" y2="475.1" stroke="#2a2a2a" stroke-width="1"/>
<line x1="479.34" y1="309.3" x2="479.34" y2="311.3" stroke="#2a2a2a" stroke-width="1"/>
<line x1="491.56" y1="477.1" x2="491.56" y2="473.6" stroke="#2a2a2a" stroke-width="1"/>
<line x1="491.56" y1="309.3" x2="491.56" y2="312.8" stroke="#2a2a2a" stroke-width="1"/>
<text x="491.56" y="489.2" font-family="Liberation Sans" font-size="9.8" font-weight="normal" text-anchor="middle" fill="#222" >-5</text>
<line x1="503.77" y1="477.1" x2="503.77" y2="475.1" stroke="#2a2a2a" stroke-width="1"/>
<line x1="503.77" y1="309.3" x2="503.77" y2="311.3" stroke="#2a2a2a" stroke-width="1"/>
<line x1="515.98" y1="477.1" x2="515.98" y2="473.6" stroke="#2a2a2a" stroke-width="1"/>
<line x1="515.98" y1="309.3" x2="515.98" y2="312.8" stroke="#2a2a2a" stroke-width="1"/>
<text x="515.98" y="489.2" font-family="Liberation Sans" font-size="9.8" font-weight="normal" text-anchor="middle" fill="#222" >-4</text>
<line x1="528.19" y1="477.1" x2="528.19" y2="475.1" stroke="#2a2a2a" stroke-width="1"/>
<line x1="528.19" y1="309.3" x2="528.19" y2="311.3" stroke="#2a2a2a" stroke-width="1"/>
<text x="540.4" y="489.2" font-family="Liberation Sans" font-size="9.8" font-weight="normal" text-anchor="middle" fill="#222" >-3</text>
<text x="431.6" y="511.3" font-family="Liberation Sans" font-size="12.6" text-anchor="middle" fill="#111">log[Cu<tspan font-size="11" dy="-8">2+</tspan><tspan dy="8" dx="0.6">] (or log[Yb</tspan><tspan font-size="11" dy="-8">3+</tspan><tspan dy="8" dx="0.6">])</tspan></text>
<text transform="translate(296,409) rotate(-90)" font-family="Liberation Sans" font-size="13" fill="#111">I/I<tspan font-size="12" dy="5.8">0</tspan></text>
<text transform="translate(290.4,305) scale(1,1.15)" font-family="Liberation Serif" font-size="16" font-weight="bold" fill="#000">d</text>
<line x1="321.1" y1="353.7" x2="539.9" y2="353.7" stroke="#5cb860" stroke-width="1.2"/>
<polyline points="327.93,354.07 352.35,354.63 376.77,355.19 401.19,369.18 425.62,425.82 450.04,451.11 474.46,462.42 498.88,463.76 523.3,463.76" fill="none" stroke="#111" stroke-width="1.3"/>
<polyline points="327.93,354.07 352.35,353.51 376.77,353.51 401.19,349.82 425.62,347.92 450.04,344.89 474.46,337.73 498.88,338.4 523.3,337.51" fill="none" stroke="#111" stroke-width="1.3"/>
<polygon points="324.73,356.27 331.13,356.27 327.93,350.47" fill="#f00"/>
<polygon points="349.15,356.83 355.55,356.83 352.35,351.03" fill="#f00"/>
<polygon points="373.57,357.39 379.97,357.39 376.77,351.59" fill="#f00"/>
<polygon points="397.99,371.38 404.39,371.38 401.19,365.58" fill="#f00"/>
<polygon points="422.42,428.02 428.82,428.02 425.62,422.22" fill="#f00"/>
<polygon points="446.84,453.31 453.24,453.31 450.04,447.51" fill="#f00"/>
<polygon points="471.26,464.62 477.66,464.62 474.46,458.82" fill="#f00"/>
<polygon points="495.68,465.96 502.08,465.96 498.88,460.16" fill="#f00"/>
<polygon points="520.1,465.96 526.5,465.96 523.3,460.16" fill="#f00"/>
<rect x="349.85" y="351.01" width="5" height="5" fill="#0a3cf0"/>
<rect x="374.27" y="351.01" width="5" height="5" fill="#0a3cf0"/>
<rect x="398.69" y="347.32" width="5" height="5" fill="#0a3cf0"/>
<rect x="423.12" y="345.42" width="5" height="5" fill="#0a3cf0"/>
<rect x="447.54" y="342.39" width="5" height="5" fill="#0a3cf0"/>
<rect x="471.96" y="335.23" width="5" height="5" fill="#0a3cf0"/>
<rect x="496.38" y="335.9" width="5" height="5" fill="#0a3cf0"/>
<rect x="520.8" y="335.01" width="5" height="5" fill="#0a3cf0"/>
<rect x="325.23" y="351.37" width="5.4" height="5.4" fill="#e01818"/>
<line x1="328.4" y1="368.8" x2="328.4" y2="362" stroke="#111" stroke-width="1.1"/>
<polygon points="326.2,363.2 330.6,363.2 328.4,358.6" fill="#111"/>
<text x="326" y="381.4" font-family="Liberation Sans" font-size="11.5" font-weight="normal" text-anchor="start" fill="#111" >blank</text>
<line x1="418.8" y1="371.3" x2="441.7" y2="371.3" stroke="#111" stroke-width="1.2"/>
<polygon points="427.3,373.5 433.7,373.5 430.5,367.7" fill="#f00"/>
<line x1="418.8" y1="391.7" x2="441.7" y2="391.7" stroke="#111" stroke-width="1.2"/>
<rect x="428" y="389.2" width="5" height="5" fill="#0a3cf0"/>
<text x="444.9" y="375.4" font-family="Liberation Sans" font-size="10" fill="#111">CsPbBr<tspan font-size="7" dy="3.5">3</tspan><tspan dy="-3.5"> QDs + Cu</tspan><tspan font-size="6" dy="-5">2+</tspan></text>
<text x="444.9" y="395.6" font-family="Liberation Sans" font-size="10" fill="#111">CsPbBr<tspan font-size="7" dy="3.5">3</tspan><tspan dy="-3.5"> QDs + Yb</tspan><tspan font-size="6" dy="-5">3+</tspan></text>
<defs><filter id="bl" x="-5%" y="-5%" width="110%" height="110%"><feGaussianBlur stdDeviation="0.8"/></filter><linearGradient id="lg" x1="0" x2="1" y1="0" y2="0"><stop offset="0" stop-color="#10fa30"/><stop offset="0.5" stop-color="#1cff3a"/><stop offset="1" stop-color="#10fa32"/></linearGradient><linearGradient id="lt" x1="0" x2="0" y1="0" y2="1"><stop offset="0" stop-color="#2c3844"/><stop offset="0.6" stop-color="#263440"/><stop offset="1" stop-color="#184a30"/></linearGradient><linearGradient id="rt" x1="0" x2="0" y1="0" y2="1"><stop offset="0" stop-color="#323a48"/><stop offset="1" stop-color="#2a303c"/></linearGradient><linearGradient id="lb" x1="0" x2="0" y1="0" y2="1"><stop offset="0" stop-color="#50f068"/><stop offset="0.3" stop-color="#d0fad0"/><stop offset="0.6" stop-color="#a8f4b0"/><stop offset="1" stop-color="#40e858"/></linearGradient><linearGradient id="rb" x1="0" x2="0" y1="0" y2="1"><stop offset="0" stop-color="#b8d098"/><stop offset="0.3" stop-color="#e4f0c4"/><stop offset="1" stop-color="#d4e4b8"/></linearGradient><linearGradient id="rw" x1="0" x2="1" y1="0" y2="0"><stop offset="0" stop-color="#c4d8bc"/><stop offset="1" stop-color="#90b098"/></linearGradient><linearGradient id="rw2" x1="0" x2="1" y1="0" y2="0"><stop offset="0" stop-color="#90b098"/><stop offset="1" stop-color="#c4d8bc"/></linearGradient></defs>
<rect x="435.2" y="61.3" width="103.5" height="182.6" fill="#1a2420"/>
<g filter="url(#bl)">
<rect x="437.2" y="63.8" width="47.4" height="178.6" rx="3" fill="#0cf02e"/>
<rect x="444.6" y="76" width="33.2" height="150" fill="url(#lg)"/>
<rect x="443.2" y="67.4" width="35.8" height="4.8" fill="#0c6a30"/>
<path d="M444.6,76 H477.8 V128 Q477.8,136.5 470,136.5 H452.6 Q444.6,136.5 444.6,128 Z" fill="url(#lt)"/>
<path d="M445.6,131 Q446.6,138.6 455.6,138.9 H469 Q476.3,138.6 477.3,131" fill="none" stroke="#70f0c0" stroke-width="1.5"/>
<rect x="437.4" y="224.2" width="47.2" height="18" rx="2" fill="url(#lb)"/>
<path d="M493,63.5 H537 V242.4 H488.4 V70 Z" fill="#8aa890"/>
<path d="M488.6,70.5 L493,64.5 H494 V223 H488.6 Z" fill="url(#rw)"/>
<rect x="531.2" y="65" width="5.6" height="158" fill="url(#rw2)"/>
<rect x="494" y="65.6" width="37.2" height="6.6" fill="#3e5248"/>
<rect x="494" y="72.2" width="37.2" height="1.8" fill="#5a7064"/>
<path d="M494,74 H531.2 V130 Q531.2,139.5 523,139.5 H502 Q494,139.5 494,130 Z" fill="url(#rt)"/>
<rect x="494" y="139" width="37.2" height="82.2" fill="#16160e"/>
<path d="M494.8,126 Q495.5,140.6 504,140.6 H521 Q530.2,140.6 530.7,126" fill="none" stroke="#c8ec50" stroke-width="2.6"/>
<rect x="489.2" y="221" width="46.8" height="20.8" rx="1.5" fill="url(#rb)"/>
</g>
<text x="489.5" y="84.8" font-family="Liberation Serif" font-size="10" font-weight="bold" text-anchor="middle" fill="#f4f4f4" >CsPbBr3 QDs</text>
<text x="478.8" y="101.6" font-family="Liberation Serif" font-size="10.5" font-weight="bold" fill="#ff2020">+</text>
<text x="486.2" y="101.7" font-family="Liberation Serif" font-size="10.8" font-weight="bold" fill="#ff2020">Cu<tspan font-size="5.8" dy="-7.6">2+</tspan></text>
<rect x="475.4" y="108.4" width="19" height="2.6" fill="#ff1818"/>
<polygon points="493.5,106.2 506.6,109.7 493.5,113.4" fill="#ff1818"/>
<polygon points="444.3,40.6 451.5,36.9 455.8,43.2 455,43.9 458.9,49.2 463.8,60.7 453.8,53.5 455.5,52.1 448.9,47.2 450.9,45.8" fill="#6410d0"/>
<polygon points="502.5,40.6 509.7,36.9 514,43.2 513.2,43.9 517.1,49.2 522,60.7 512,53.5 513.7,52.1 507.1,47.2 509.1,45.8" fill="#6410d0"/>
<text x="457.8" y="38.3" font-family="Liberation Serif" font-size="15" font-weight="normal" text-anchor="start" fill="#7030a8" font-style="italic">hv</text>
<text x="515.9" y="38.3" font-family="Liberation Serif" font-size="15" font-weight="normal" text-anchor="start" fill="#7030a8" font-style="italic">hv</text>
<text x="460.1" y="52.3" font-family="Liberation Serif" font-size="9.9" font-weight="bold" text-anchor="start" fill="#7434a8" >ex:365 nm</text>
<text transform="translate(421,27.1) scale(0.92,1.02)" font-family="Liberation Serif" font-size="19" font-weight="bold" fill="#000">b</text>
</svg>
</body></html>
